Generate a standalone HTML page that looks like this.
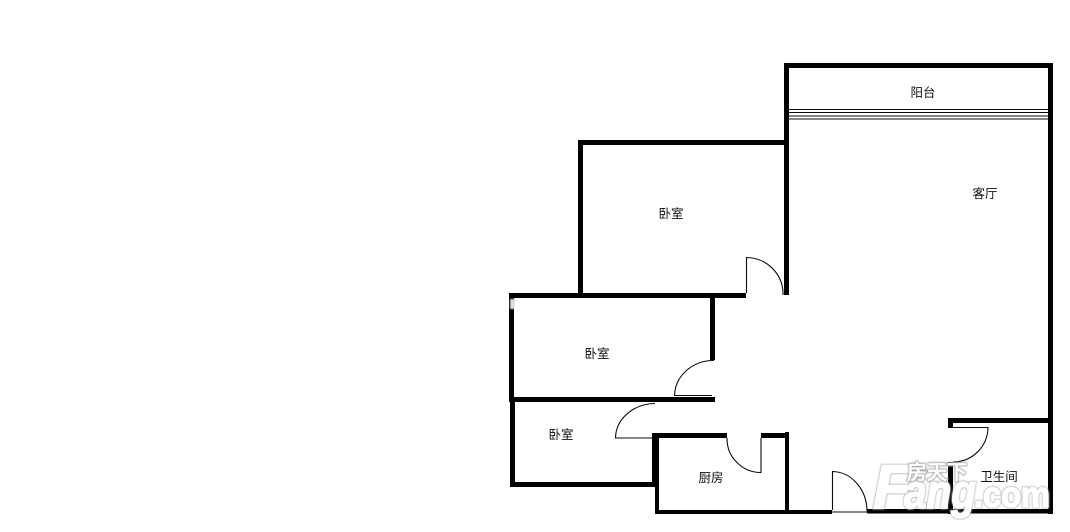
<!DOCTYPE html>
<html><head><meta charset="utf-8"><style>
html,body{margin:0;padding:0;background:#fff}
svg{display:block}
.t{font-family:"Liberation Sans","WenQuanYi Zen Hei","Noto Sans CJK SC",sans-serif;font-size:12.5px;fill:#111;text-anchor:middle}
.w{fill:#000}
.d{fill:none;stroke:#111;stroke-width:1.1}
</style></head><body>
<svg width="1070" height="532" viewBox="0 0 1070 532" xmlns="http://www.w3.org/2000/svg">
<defs>
<filter id="b" x="-10%" y="-10%" width="120%" height="120%"><feGaussianBlur stdDeviation="0.8"/></filter>
<filter id="s" x="-2%" y="-2%" width="104%" height="104%"><feGaussianBlur stdDeviation="0.35"/></filter>
</defs>
<rect width="1070" height="532" fill="#fff"/>
<g filter="url(#s)">
<g class="w">
<!-- outer / living -->
<rect x="784" y="63" width="269" height="5"/>
<rect x="784" y="63" width="5" height="232"/>
<rect x="1048" y="63" width="5" height="451"/>
<!-- top bedroom -->
<rect x="578" y="140" width="208" height="5"/>
<rect x="578" y="140" width="5" height="158"/>
<rect x="509" y="293" width="237" height="5"/>
<!-- middle bedroom -->
<rect x="509" y="294" width="5" height="108"/>
<rect x="710" y="297" width="5" height="63"/>
<rect x="509" y="397" width="206" height="5"/>
<!-- lower bedroom -->
<rect x="510" y="400" width="5" height="87"/>
<rect x="510" y="482" width="146" height="5"/>
<!-- kitchen -->
<rect x="652" y="433" width="5" height="52"/>
<rect x="655" y="433" width="4" height="81"/>
<rect x="655" y="433" width="72" height="5"/>
<rect x="761" y="433" width="28" height="5"/>
<rect x="785" y="432" width="4" height="82"/>
<rect x="655" y="510" width="177" height="4"/>
<rect x="867" y="509" width="186" height="4.5"/>
<!-- bathroom -->
<rect x="948" y="418" width="102" height="5"/>
<rect x="948" y="418" width="5" height="10"/>
<rect x="948" y="462" width="5" height="52"/>
</g>
<!-- balcony rail -->
<g stroke="#111" stroke-width="1">
<line x1="788" y1="109.5" x2="1050" y2="109.5"/>
<line x1="788" y1="112.5" x2="1050" y2="112.5"/>
<line x1="788" y1="116" x2="1050" y2="116"/>
<line x1="788" y1="119" x2="1050" y2="119"/>
</g>
<!-- doors -->
<path class="d" d="M746.500 293V257.500A37 37 0 0 1 783 295"/>
<path class="d" d="M714 360.500A39 36 0 0 0 674.500 395.500H712"/>
<path class="d" d="M655 403.500A40 35 0 0 0 615.500 438H652"/>
<path class="d" d="M727 438A34 34 0 0 0 761 472.500V438"/>
<path class="d" d="M953 427.500H988A35 35 0 0 1 953 462"/>
<path class="d" d="M832.500 510V471.500A35 40 0 0 1 867 512H832"/>
<!-- labels -->
<text class="t" x="923" y="97">阳台</text>
<text class="t" x="985" y="198">客厅</text>
<text class="t" x="671" y="218">卧室</text>
<text class="t" x="597" y="358">卧室</text>
<text class="t" x="561" y="439">卧室</text>
<text class="t" x="711" y="482">厨房</text>
</g>
<!-- smudge -->
<rect x="510" y="299" width="5" height="10" fill="#ddd" filter="url(#b)"/>
<!-- watermark -->
<g font-family="Liberation Sans,sans-serif" font-weight="700">
<g fill="#aaa" stroke="#aaa" stroke-width="3" filter="url(#b)" opacity="0.85">
<text x="873" y="508" font-size="62" font-style="italic">F</text>
<text x="904" y="508" font-size="48" font-style="italic" textLength="72" lengthAdjust="spacingAndGlyphs">ang</text>
<text x="974" y="507" font-size="36" textLength="76" lengthAdjust="spacingAndGlyphs">.com</text>
</g>
<g fill="#fff" stroke="#fff" stroke-width="1.5">
<text x="873" y="508" font-size="62" font-style="italic">F</text>
<text x="904" y="508" font-size="48" font-style="italic" textLength="72" lengthAdjust="spacingAndGlyphs">ang</text>
<text x="974" y="507" font-size="36" textLength="76" lengthAdjust="spacingAndGlyphs">.com</text>
</g>
<g font-family="Liberation Sans,WenQuanYi Zen Hei,sans-serif" font-size="20">
<text x="907" y="479" fill="#aaa" stroke="#aaa" stroke-width="2" filter="url(#b)">房天下</text>
<text x="907" y="479" fill="#fff">房天下</text>
</g>
</g>
<text class="t" x="999" y="481">卫生间</text>
</svg>
</body></html>
